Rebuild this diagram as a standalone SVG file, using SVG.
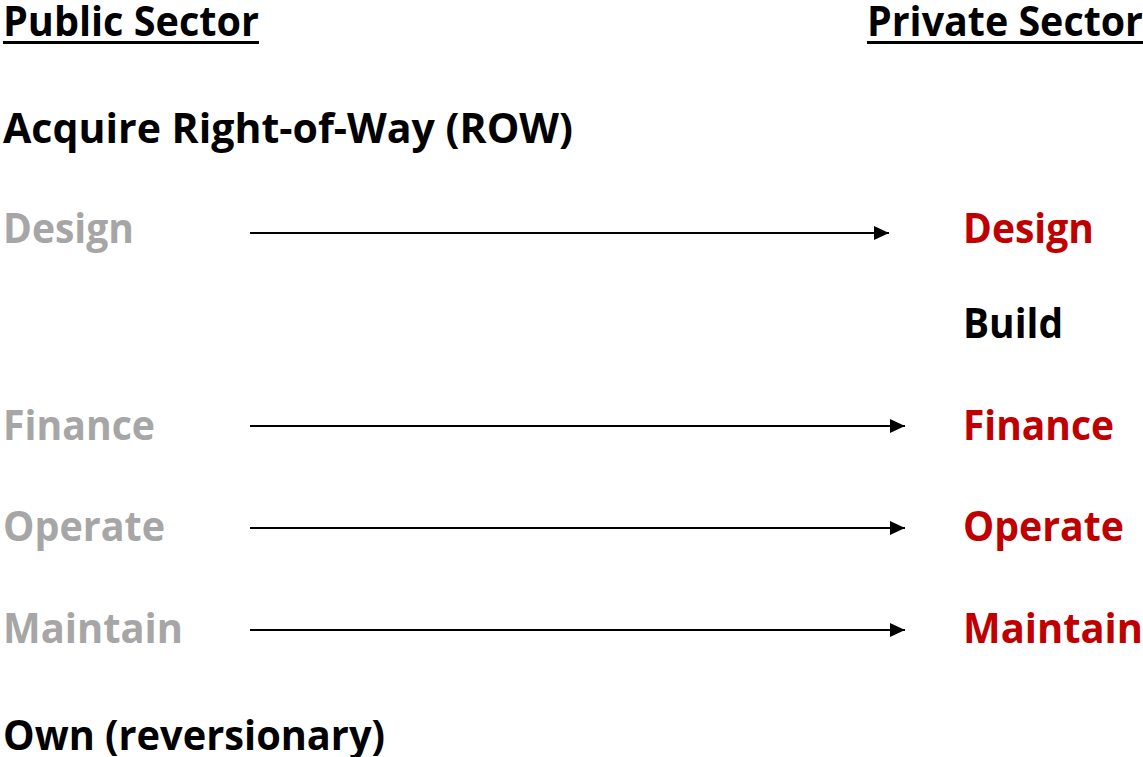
<svg xmlns="http://www.w3.org/2000/svg" width="1143" height="757" viewBox="0 0 1143 757">
  <defs>
    <style>
      text { font-family: "Open Sans", "Lato", "Liberation Sans", sans-serif; font-weight: 700; font-size: 41px; }
      .hdr { fill: #000000; }
      .pub { fill: #A6A6A6; }
      .prv { fill: #C00000; }
      .blk { fill: #000000; }
      .arrow { stroke: #000000; stroke-width: 2; fill: none; marker-end: url(#head); }
    </style>
    <marker id="head" markerUnits="userSpaceOnUse" markerWidth="16" markerHeight="16" refX="15" refY="7" orient="auto">
      <path d="M0,0 L15,7 L0,14 Z" fill="#000000"/>
    </marker>
  </defs>
  <rect width="1143" height="757" fill="#ffffff"/>

  <!-- column headings -->
  <g id="public-heading">
    <text class="hdr" x="3" y="36" textLength="256" lengthAdjust="spacingAndGlyphs">Public Sector</text>
    <rect x="3" y="41" width="256" height="3" fill="#000000"/>
  </g>
  <g id="private-heading">
    <text class="hdr" x="867" y="36" textLength="276" lengthAdjust="spacingAndGlyphs">Private Sector</text>
    <rect x="867" y="41" width="276" height="3" fill="#000000"/>
  </g>

  <!-- public-sector roles -->
  <g id="acquire-row"><text class="blk" x="3" y="143" textLength="570" lengthAdjust="spacingAndGlyphs">Acquire Right-of-Way (ROW)</text></g>
  <g id="public-design"><text class="pub" x="3" y="243" textLength="131" lengthAdjust="spacingAndGlyphs">Design</text></g>
  <g id="public-finance"><text class="pub" x="3" y="440" textLength="152" lengthAdjust="spacingAndGlyphs">Finance</text></g>
  <g id="public-operate"><text class="pub" x="3" y="541" textLength="162" lengthAdjust="spacingAndGlyphs">Operate</text></g>
  <g id="public-maintain"><text class="pub" x="3" y="643" textLength="180" lengthAdjust="spacingAndGlyphs">Maintain</text></g>
  <g id="own"><text class="blk" x="3" y="750" textLength="382" lengthAdjust="spacingAndGlyphs">Own (reversionary)</text></g>

  <!-- private-sector roles -->
  <g id="private-design"><text class="prv" x="963" y="243" textLength="131" lengthAdjust="spacingAndGlyphs">Design</text></g>
  <g id="private-build"><text class="blk" x="963" y="338" textLength="100" lengthAdjust="spacingAndGlyphs">Build</text></g>
  <g id="private-finance"><text class="prv" x="963" y="440" textLength="151" lengthAdjust="spacingAndGlyphs">Finance</text></g>
  <g id="private-operate"><text class="prv" x="963" y="541" textLength="161" lengthAdjust="spacingAndGlyphs">Operate</text></g>
  <g id="private-maintain"><text class="prv" x="963" y="643" textLength="180" lengthAdjust="spacingAndGlyphs">Maintain</text></g>

  <!-- transfer arrows -->
  <g id="connectors">
    <line class="arrow" x1="250" y1="233" x2="889" y2="233"/>
    <line class="arrow" x1="250" y1="426" x2="905" y2="426"/>
    <line class="arrow" x1="250" y1="528" x2="905" y2="528"/>
    <line class="arrow" x1="250" y1="630" x2="905" y2="630"/>
  </g>
</svg>
